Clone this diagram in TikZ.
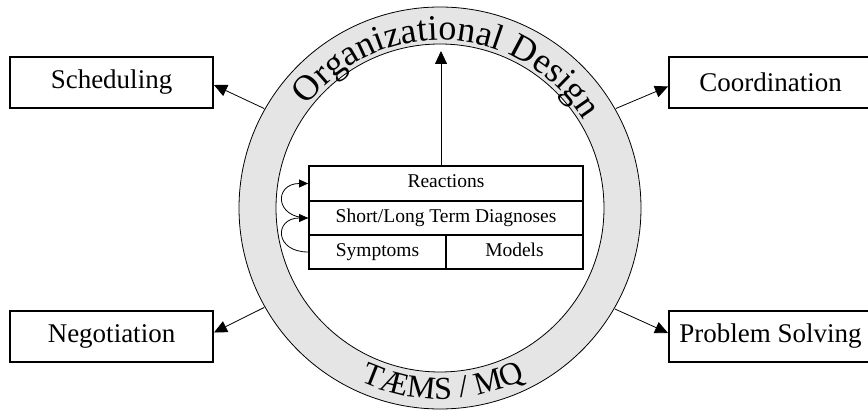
\documentclass[tikz,border=0pt]{standalone}
\usepackage{fontspec}
\setmainfont{Liberation Serif}
\usetikzlibrary{arrows.meta,decorations.text,calc}
\definecolor{ringgray}{RGB}{229,229,229}
\begin{document}
\begin{tikzpicture}[x=1pt,y=1pt,
  outbox/.style={draw, line width=2pt, minimum width=203pt, minimum height=51pt, inner sep=0pt, font=\fontsize{27}{30}\selectfont},
  rowbox/.style={draw, line width=1.8pt, inner sep=0pt, text height=13pt, text depth=4pt, font=\fontsize{19.5}{22}\selectfont},
  link/.style={line width=0.8pt, -{Triangle[length=13pt,width=12pt]}},
  loop/.style={line width=0.8pt, -{Triangle[length=9pt,width=8pt]}},
  ringline/.style={line width=0.8pt},
]
\useasboundingbox (0,0) rectangle (868,-411);
\coordinate (c) at (440,-208);
% ring
\fill[ringgray, even odd rule] (c) circle[radius=201] (c) circle[radius=164];
\draw[ringline] (c) circle[radius=201];
\draw[ringline] (c) circle[radius=164];
% ring texts
\path[decorate, decoration={text along path, text align=center,
  text={|\fontsize{36}{40}\selectfont|Organizational Design}}]
  ($(c)+(153:168)$) arc[start angle=153, end angle=21, radius=168];
\path[decorate, decoration={text along path, text align=center,
  text={|\fontsize{32}{38}\selectfont|TÆMS / MQ}}]
  ($(c)+(236:191)$) arc[start angle=236, end angle=306, radius=191];
% outer boxes
\node[outbox] (sched) at (111.5,-82.5) {Scheduling};
\node[outbox] (coord) at (770.5,-82.5) {Coordination};
\node[outbox] (neg) at (111.5,-336.5) {Negotiation};
\node[outbox] (ps) at (770.5,-336.5) {Problem Solving};
% central stack
\node[rowbox, minimum width=274pt, minimum height=35pt] (react) at (446,-183.5) {Reactions};
\node[rowbox, minimum width=274pt, minimum height=34pt] (diag) at (446,-218) {Short/Long Term Diagnoses};
\node[rowbox, minimum width=137pt, minimum height=34pt] (symp) at (377.5,-252) {Symptoms};
\node[rowbox, minimum width=137pt, minimum height=34pt] (models) at (514.5,-252) {Models};
% loops
\draw[loop] (symp.west) .. controls +(-34,0) and +(-34,0) .. (diag.west);
\draw[loop] (diag.west) .. controls +(-34,0) and +(-34,0) .. (react.west);
% vertical arrow
\coordinate (otop) at (441,-51);
\draw[link] (otop |- react.north) -- (otop);
% ring to boxes
\coordinate (a1) at ($(c)+(150.5:202)$);
\coordinate (a2) at ($(c)+(29.5:202)$);
\coordinate (a3) at ($(c)+(209.5:202)$);
\coordinate (a4) at ($(c)+(-30:202)$);
\draw[link] (a1) -- ([yshift=-2.5pt]sched.east);
\draw[link] (a2) -- ([yshift=-4pt]coord.west);
\draw[link] (a3) -- ([yshift=4pt]neg.east);
\draw[link] (a4) -- ([yshift=3.5pt]ps.west);
\end{tikzpicture}
\end{document}
